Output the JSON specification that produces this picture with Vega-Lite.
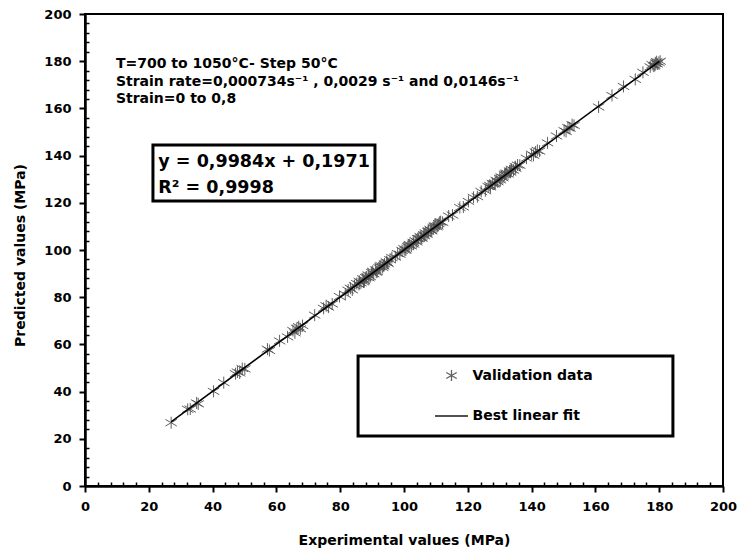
{
  "$schema": "https://vega.github.io/schema/vega-lite/v6.json",
  "width": 638,
  "height": 472,
  "autosize": "none",
  "padding": {"left": 85, "top": 14, "right": 16, "bottom": 65},
  "background": "white",
  "config": {
    "view": {"stroke": "black", "strokeWidth": 2},
    "font": "DejaVu Sans",
    "axis": {
      "domainColor": "black",
      "domainWidth": 2.5,
      "tickColor": "black",
      "labelColor": "black",
      "labelFont": "DejaVu Sans",
      "labelFontSize": 13,
      "labelFontWeight": "bold",
      "titleFont": "DejaVu Sans",
      "titleFontSize": 14,
      "titleFontWeight": "bold",
      "titleColor": "black",
      "grid": false
    }
  },
  "datasets": {
    "validation": [
      {"x": 27.0, "y": 26.8}, {"x": 32.2, "y": 32.5}, {"x": 33.0, "y": 32.6}, {"x": 35.0, "y": 35.2}, {"x": 35.5, "y": 34.8},
      {"x": 40.3, "y": 40.1}, {"x": 43.5, "y": 43.8}, {"x": 47.2, "y": 47.6}, {"x": 47.8, "y": 48.3}, {"x": 48.5, "y": 47.9},
      {"x": 49.3, "y": 49.8}, {"x": 50.1, "y": 49.6}, {"x": 57.2, "y": 58.0}, {"x": 57.8, "y": 57.4}, {"x": 61.0, "y": 61.5},
      {"x": 63.5, "y": 63.2}, {"x": 65.2, "y": 65.9}, {"x": 65.8, "y": 64.9}, {"x": 66.4, "y": 66.8}, {"x": 67.0, "y": 67.5},
      {"x": 67.5, "y": 66.6}, {"x": 68.2, "y": 68.0}, {"x": 72.0, "y": 72.4}, {"x": 74.8, "y": 75.3}, {"x": 75.6, "y": 76.4},
      {"x": 76.3, "y": 75.8}, {"x": 77.5, "y": 77.1}, {"x": 79.8, "y": 80.3}, {"x": 81.6, "y": 81.2}, {"x": 82.5, "y": 83.0},
      {"x": 83.2, "y": 83.8}, {"x": 83.8, "y": 83.1}, {"x": 84.5, "y": 84.9}, {"x": 85.2, "y": 85.8}, {"x": 85.9, "y": 85.4},
      {"x": 86.5, "y": 86.1}, {"x": 87.1, "y": 87.8}, {"x": 87.6, "y": 86.9}, {"x": 88.3, "y": 88.6}, {"x": 88.8, "y": 89.4},
      {"x": 89.4, "y": 88.7}, {"x": 89.9, "y": 90.5}, {"x": 90.5, "y": 89.9}, {"x": 91.1, "y": 91.6}, {"x": 91.6, "y": 90.8},
      {"x": 92.2, "y": 92.5}, {"x": 92.8, "y": 93.4}, {"x": 93.3, "y": 92.6}, {"x": 93.9, "y": 94.1}, {"x": 94.5, "y": 95.0},
      {"x": 95.0, "y": 94.3}, {"x": 95.6, "y": 95.9}, {"x": 96.2, "y": 96.8}, {"x": 97.3, "y": 97.0}, {"x": 98.0, "y": 98.5},
      {"x": 98.7, "y": 98.2}, {"x": 99.4, "y": 99.8}, {"x": 100.0, "y": 100.6}, {"x": 100.6, "y": 100.1}, {"x": 101.2, "y": 101.5},
      {"x": 101.8, "y": 102.3}, {"x": 102.3, "y": 101.7}, {"x": 102.9, "y": 103.2}, {"x": 103.5, "y": 104.0}, {"x": 104.0, "y": 103.4},
      {"x": 104.6, "y": 104.9}, {"x": 105.1, "y": 105.7}, {"x": 105.6, "y": 105.0}, {"x": 106.2, "y": 106.5}, {"x": 106.7, "y": 107.3},
      {"x": 107.2, "y": 106.6}, {"x": 107.7, "y": 108.1}, {"x": 108.2, "y": 108.7}, {"x": 108.7, "y": 108.1}, {"x": 109.2, "y": 109.5},
      {"x": 109.8, "y": 110.3}, {"x": 110.3, "y": 109.8}, {"x": 110.9, "y": 111.2}, {"x": 111.5, "y": 112.0}, {"x": 112.1, "y": 111.7},
      {"x": 114.0, "y": 114.4}, {"x": 115.2, "y": 114.8}, {"x": 117.5, "y": 118.0}, {"x": 118.6, "y": 118.2}, {"x": 120.2, "y": 120.6},
      {"x": 121.8, "y": 122.3}, {"x": 123.0, "y": 122.6}, {"x": 124.2, "y": 124.8}, {"x": 125.5, "y": 125.1}, {"x": 126.4, "y": 126.9},
      {"x": 127.1, "y": 126.7}, {"x": 127.7, "y": 128.2}, {"x": 128.3, "y": 128.0}, {"x": 128.9, "y": 129.5}, {"x": 129.4, "y": 128.9},
      {"x": 130.0, "y": 130.4}, {"x": 130.5, "y": 131.0}, {"x": 131.0, "y": 130.6}, {"x": 131.5, "y": 131.9}, {"x": 132.1, "y": 132.6},
      {"x": 132.6, "y": 132.2}, {"x": 133.1, "y": 133.5}, {"x": 133.7, "y": 134.2}, {"x": 134.3, "y": 133.8}, {"x": 134.9, "y": 135.3},
      {"x": 135.6, "y": 136.0}, {"x": 136.3, "y": 135.9}, {"x": 138.4, "y": 138.9}, {"x": 140.0, "y": 140.6}, {"x": 140.6, "y": 140.1},
      {"x": 141.2, "y": 141.5}, {"x": 141.8, "y": 142.2}, {"x": 142.5, "y": 141.9}, {"x": 145.0, "y": 145.4}, {"x": 147.8, "y": 148.3},
      {"x": 150.2, "y": 150.6}, {"x": 150.8, "y": 150.2}, {"x": 151.4, "y": 151.9}, {"x": 152.0, "y": 151.6}, {"x": 152.7, "y": 153.1},
      {"x": 153.3, "y": 152.8}, {"x": 161.0, "y": 160.6}, {"x": 165.2, "y": 165.5}, {"x": 168.8, "y": 169.3}, {"x": 172.5, "y": 172.3},
      {"x": 174.9, "y": 175.3}, {"x": 177.2, "y": 177.6}, {"x": 177.8, "y": 178.6}, {"x": 178.3, "y": 177.9}, {"x": 178.9, "y": 179.3},
      {"x": 179.4, "y": 178.8}, {"x": 179.9, "y": 179.5}, {"x": 180.3, "y": 180.0},
      {"x": 86.0, "y": 86.7}, {"x": 87.3, "y": 86.5}, {"x": 88.0, "y": 88.3}, {"x": 89.0, "y": 88.2}, {"x": 90.2, "y": 91.0},
      {"x": 91.3, "y": 90.6}, {"x": 92.5, "y": 93.0}, {"x": 93.6, "y": 93.3}, {"x": 94.8, "y": 94.6}, {"x": 100.3, "y": 99.9},
      {"x": 101.5, "y": 102.0}, {"x": 103.0, "y": 102.5}, {"x": 104.3, "y": 104.8}, {"x": 105.4, "y": 105.2}, {"x": 106.4, "y": 106.0},
      {"x": 107.5, "y": 107.9}, {"x": 108.5, "y": 108.3}, {"x": 109.5, "y": 110.0}, {"x": 110.6, "y": 110.2}, {"x": 111.2, "y": 111.8},
      {"x": 126.9, "y": 127.4}, {"x": 128.6, "y": 128.3}, {"x": 130.2, "y": 129.7}, {"x": 131.8, "y": 132.3}, {"x": 133.4, "y": 133.0},
      {"x": 135.0, "y": 134.6}, {"x": 178.6, "y": 178.2}, {"x": 179.2, "y": 179.8}
    ],
    "fit": [{"x": 27.0, "y": 27.15}, {"x": 180.0, "y": 179.91}],
    "boxes": [
      {"x": 21.3, "x2": 90.9, "y": 144.5, "y2": 120.8},
      {"x": 85.6, "x2": 184.3, "y": 55.1, "y2": 21.2}
    ],
    "notes": [
      {"x": 9.7, "y": 178.8, "text": "T=700 to 1050°C- Step 50°C"},
      {"x": 9.7, "y": 171.2, "text": "Strain rate=0,000734s⁻¹ , 0,0029 s⁻¹ and 0,0146s⁻¹"},
      {"x": 9.7, "y": 163.8, "text": "Strain=0 to 0,8"}
    ],
    "equation": [
      {"x": 23.0, "y": 137.3, "text": "y = 0,9984x + 0,1971"},
      {"x": 23.0, "y": 126.3, "text": "R² = 0,9998"}
    ]
  },
  "encoding": {
    "x": {
      "field": "x", "type": "quantitative",
      "scale": {"domain": [0, 200], "nice": false},
      "axis": {
        "title": "Experimental values (MPa)",
        "values": [0,4,8,12,16,20,24,28,32,36,40,44,48,52,56,60,64,68,72,76,80,84,88,92,96,100,104,108,112,116,120,124,128,132,136,140,144,148,152,156,160,164,168,172,176,180,184,188,192,196,200],
        "labelExpr": "datum.value % 20 === 0 ? datum.label : ''",
        "tickSize": {"condition": {"test": "datum.value % 20 === 0", "value": 6}, "value": -4},
        "tickWidth": {"condition": {"test": "datum.value % 20 === 0", "value": 2}, "value": 1.5},
        "labelPadding": 8,
        "labelFlush": false,
        "labelOverlap": false,
        "titleX": 319,
        "titleY": 54,
        "titleBaseline": "middle",
        "titleAlign": "center"
      }
    },
    "y": {
      "field": "y", "type": "quantitative",
      "scale": {"domain": [0, 200], "nice": false},
      "axis": {
        "title": "Predicted values (MPa)",
        "values": [0,4,8,12,16,20,24,28,32,36,40,44,48,52,56,60,64,68,72,76,80,84,88,92,96,100,104,108,112,116,120,124,128,132,136,140,144,148,152,156,160,164,168,172,176,180,184,188,192,196,200],
        "labelExpr": "datum.value % 20 === 0 ? datum.label : ''",
        "tickSize": {"condition": {"test": "datum.value % 20 === 0", "value": 6}, "value": -4},
        "tickWidth": {"condition": {"test": "datum.value % 20 === 0", "value": 2}, "value": 1.5},
        "labelPadding": 8,
        "labelFlush": false,
        "labelOverlap": false,
        "titleX": -65,
        "titleY": 241,
        "titleBaseline": "middle",
        "titleAlign": "center",
        "titleAngle": -90
      }
    }
  },
  "layer": [
    {
      "data": {"name": "boxes"},
      "mark": {"type": "rect", "fill": "white", "stroke": "black", "strokeWidth": 3},
      "encoding": {
        "x2": {"field": "x2"},
        "y2": {"field": "y2"}
      }
    },
    {
      "data": {"name": "validation"},
      "mark": {"type": "point", "filled": false, "size": 144, "strokeWidth": 1, "opacity": 0.9},
      "encoding": {
        "shape": {
          "datum": "Validation data",
          "scale": {
            "domain": ["Validation data", "Best linear fit"],
            "range": ["M0,-1L0,1M-0.95,-0.55L0.95,0.55M-0.95,0.55L0.95,-0.55", "M-3,0L3,0"]
          },
          "legend": {
            "title": null,
            "orient": "none",
            "legendX": 359.5,
            "legendY": 354.5,
            "padding": 0,
            "symbolSize": 121,
            "symbolStrokeWidth": 1.3,
            "labelOffset": 14,
            "rowPadding": 24.5,
            "labelFont": "DejaVu Sans",
            "labelFontSize": 14,
            "labelFontWeight": "bold",
            "labelColor": "black"
          }
        },
        "color": {
          "datum": "Validation data",
          "scale": {
            "domain": ["Validation data", "Best linear fit"],
            "range": ["#505050", "#000000"]
          },
          "legend": {
            "title": null,
            "orient": "none",
            "legendX": 359.5,
            "legendY": 354.5,
            "padding": 0,
            "symbolSize": 121,
            "symbolStrokeWidth": 1.3,
            "labelOffset": 14,
            "rowPadding": 24.5,
            "labelFont": "DejaVu Sans",
            "labelFontSize": 14,
            "labelFontWeight": "bold",
            "labelColor": "black"
          }
        }
      }
    },
    {
      "data": {"name": "fit"},
      "mark": {"type": "line", "color": "black", "strokeWidth": 1.5},
      "encoding": {}
    },
    {
      "data": {"name": "notes"},
      "mark": {"type": "text", "align": "left", "baseline": "middle", "font": "DejaVu Sans", "fontSize": 14, "fontWeight": "bold", "color": "black"},
      "encoding": {"text": {"field": "text"}}
    },
    {
      "data": {"name": "equation"},
      "mark": {"type": "text", "align": "left", "baseline": "middle", "font": "DejaVu Sans", "fontSize": 17.5, "fontWeight": "bold", "color": "black"},
      "encoding": {"text": {"field": "text"}}
    }
  ]
}
